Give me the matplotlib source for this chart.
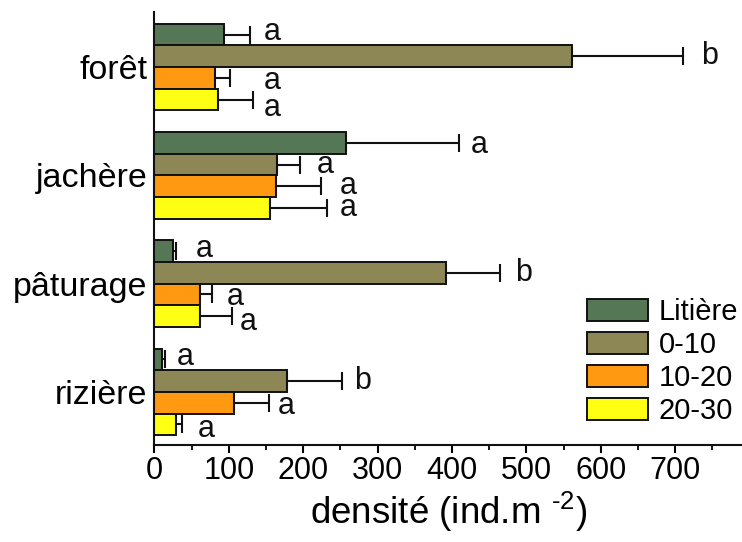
import matplotlib
matplotlib.use("Agg")
import matplotlib.pyplot as plt
import numpy as np

plt.rcParams['font.family'] = ['Liberation Sans', 'DejaVu Sans']
plt.rcParams['mathtext.fontset'] = 'custom'
plt.rcParams['mathtext.rm'] = 'Liberation Sans'
plt.rcParams['mathtext.it'] = 'Liberation Sans'

# Land-use categories, drawn from bottom (index 0) to top
categories = ["rizière", "pâturage", "jachère", "forêt"]
series = ["Litière", "0-10", "10-20", "20-30"]

# Mean density per layer (ind.m-2), in category order above
litiere = [10, 25, 258, 93]
sol_0_10 = [178, 392, 165, 561]
sol_10_20 = [107, 61, 163, 82]
sol_20_30 = [29, 61, 155, 85]

# Standard errors (drawn one-sided)
err_litiere = [4, 4, 152, 35]
err_0_10 = [74, 72, 30, 150]
err_10_20 = [47, 16, 61, 20]
err_20_30 = [8, 43, 77, 48]

# Significance letters
let_litiere = ["a", "a", "a", "a"]
let_0_10 = ["b", "b", "a", "b"]
let_10_20 = ["a", "a", "a", "a"]
let_20_30 = ["a", "a", "a", "a"]

values = [litiere, sol_0_10, sol_10_20, sol_20_30]
errors = [err_litiere, err_0_10, err_10_20, err_20_30]
letters = [let_litiere, let_0_10, let_10_20, let_20_30]

# where each letter sits: x in data units, vertical nudge in points (down > 0)
letter_x = [
    [30, 55, 425, 147],
    [268, 485, 218, 735],
    [166, 97, 249, 147],
    [58, 115, 249, 147],
]
letter_dy = [
    [-1.5, -1.5, 1.5, -2],
    [0, 0, 0, 0],
    [2, 2, 0, 2.5],
    [3.3, 4, 0, 5.8],
]

colors = ["#557755", "#8c8755", "#ff9912", "#ffff14"]
offsets = [0.3, 0.1, -0.1, -0.3]
bar_h = 0.2

fig = plt.figure(figsize=(7.42, 5.42), dpi=100)
ax = fig.add_axes([0.2082, 0.179, 0.7918, 0.799])

y = np.arange(len(categories))
for vals, errs, labs, lx, ldy, col, off, name in zip(
        values, errors, letters, letter_x, letter_dy, colors, offsets, series):
    ax.barh(y + off, vals, height=bar_h, color=col, edgecolor="#111111",
            linewidth=1.4, label=name, zorder=2)
    ax.errorbar(vals, y + off, xerr=[np.zeros(len(vals)), errs], fmt="none",
                ecolor="#111111", elinewidth=1.5, capsize=6.5, capthick=1.5,
                zorder=3)
    for yi, lab, xpos, dy in zip(y + off, labs, lx, ldy):
        ax.annotate(lab, (xpos, yi), xytext=(0, -dy),
                    textcoords="offset points", fontsize=22, va="center",
                    ha="left", color="#111111")

ax.set_xlim(0, 790)
ax.set_ylim(-0.49, 3.51)
ax.set_yticks(y)
ax.set_yticklabels(categories, fontsize=24.5)
ax.tick_params(axis="y", length=0, pad=5)
ax.set_xticks(np.arange(0, 701, 100))
ax.set_xticks(np.arange(0, 790, 50), minor=True)
ax.tick_params(axis="x", which="major", length=6, width=1.5, labelsize=22,
               direction="out", pad=2)
ax.tick_params(axis="x", which="minor", length=3.6, width=1.3, direction="out")

for s in ["top", "right"]:
    ax.spines[s].set_visible(False)
for s in ["left", "bottom"]:
    ax.spines[s].set_linewidth(1.5)
    ax.spines[s].set_color("#111111")

ax.set_xlabel(r"densité (ind.m $^{\text{-2}}$)", fontsize=26.5, labelpad=3)

ax.legend(loc="upper left", bbox_to_anchor=(587 / 742, 1 - 298 / 542),
          bbox_transform=fig.transFigure, frameon=False,
          fontsize=21, handlelength=2.1, handleheight=0.8, labelspacing=0.17,
          handletextpad=0.35, borderaxespad=0.0, borderpad=0.0)

fig.savefig("out.png", dpi=100)
